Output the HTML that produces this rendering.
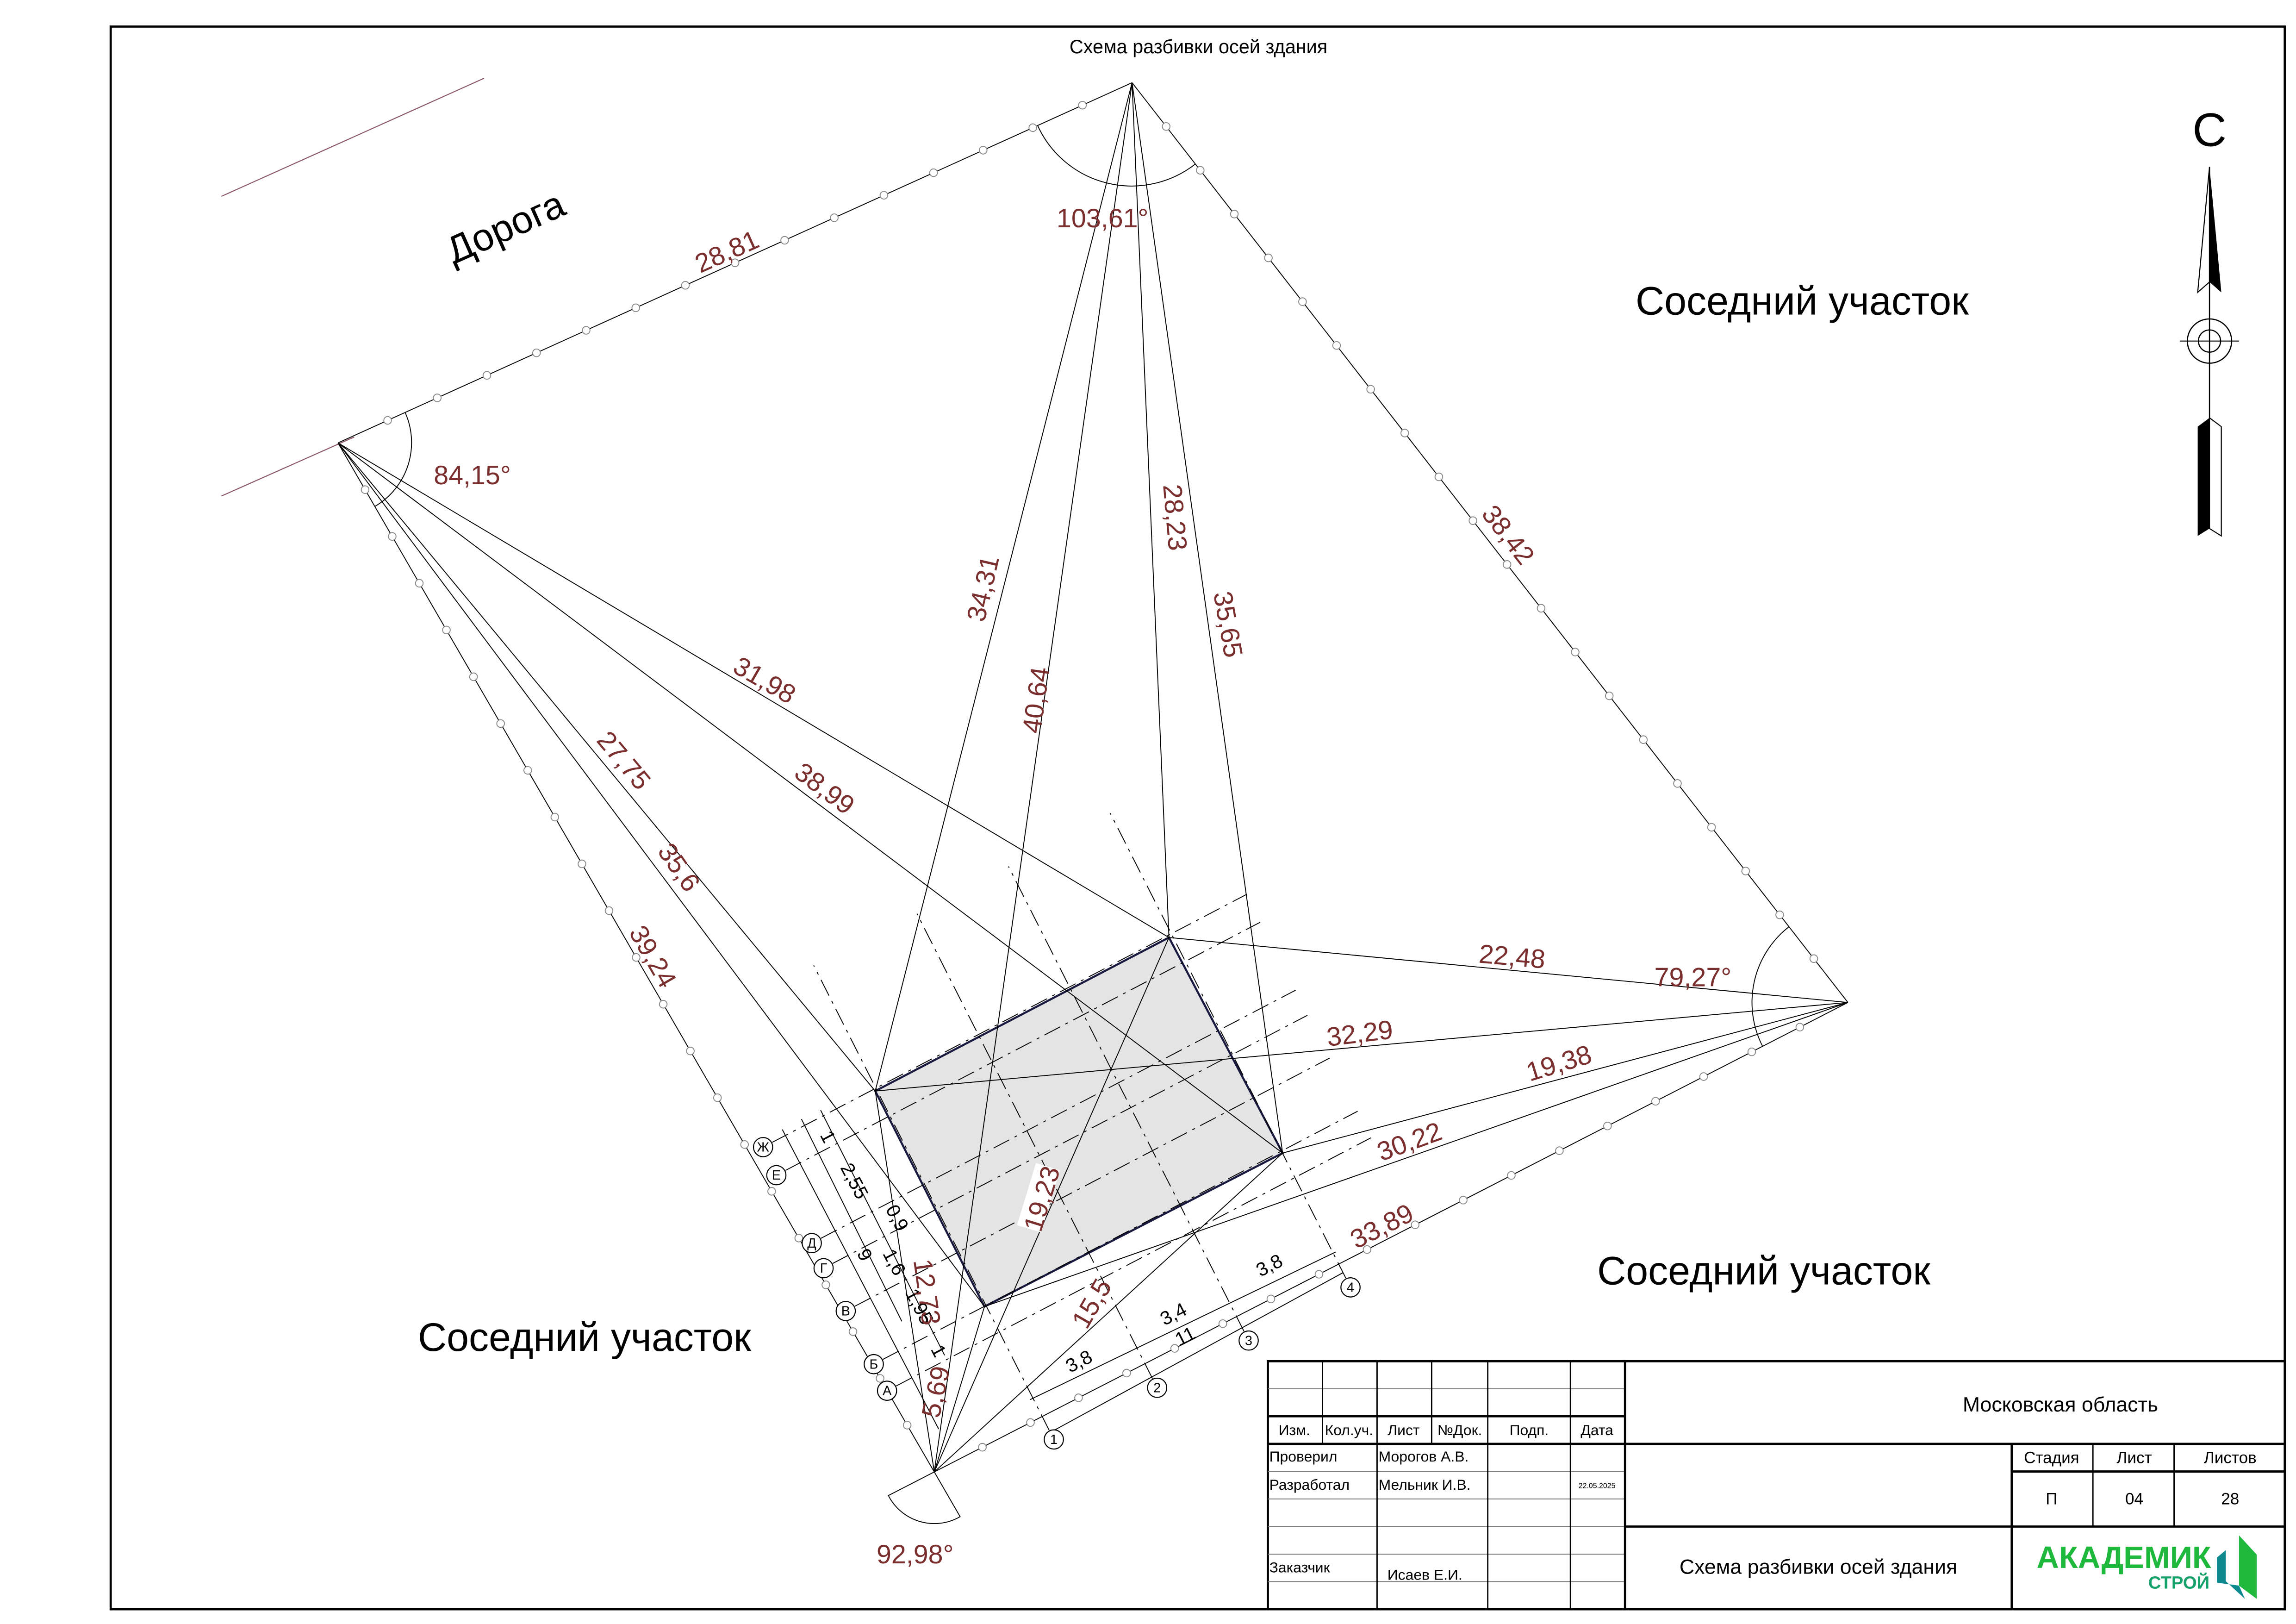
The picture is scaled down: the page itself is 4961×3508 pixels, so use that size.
<!DOCTYPE html>
<html><head><meta charset="utf-8"><style>
html,body{margin:0;padding:0;background:#fff;}
svg{display:block;}
text{font-family:"Liberation Sans Narrow","Liberation Sans",sans-serif;}
.r{fill:#7a2e2e;font-size:18px;}
.k{fill:#000;}
</style></head><body>
<svg id="s" width="4961" height="3508" viewBox="0 0 1555.6 1100" preserveAspectRatio="none" xmlns="http://www.w3.org/2000/svg">
<rect x="0" y="0" width="1555.6" height="1100" fill="#fff"/>
<rect x="75" y="18" width="1473" height="1072" fill="none" stroke="#000" stroke-width="1.5"/>
<text x="812" y="36" font-size="13" text-anchor="middle" class="k">Схема разбивки осей здания</text>

<line x1="150" y1="133" x2="328" y2="53" stroke="#8c5a6a" stroke-width="0.7"/>
<line x1="150" y1="336" x2="240" y2="296" stroke="#8c5a6a" stroke-width="0.7"/>
<text x="346" y="162" font-size="26" transform="rotate(-24 346 162)" text-anchor="middle" class="k">Дорога</text>

<polygon points="593,739 792,635 869,781 667,885" fill="#e4e4e4" stroke="#1a1a40" stroke-width="1.4"/>

<g id="axes" stroke="#000" stroke-width="0.6" stroke-dasharray="12,4,2,4" fill="none"></g>
<g id="lines" stroke="#000" stroke-width="0.6" fill="none">
<line x1="767" y1="56" x2="593" y2="739"/>
<line x1="767" y1="56" x2="633" y2="997"/>
<line x1="767" y1="56" x2="792" y2="635"/>
<line x1="767" y1="56" x2="869" y2="781"/>
<line x1="229" y1="300" x2="593" y2="739"/>
<line x1="229" y1="300" x2="667" y2="885"/>
<line x1="229" y1="300" x2="869" y2="781"/>
<line x1="229" y1="300" x2="792" y2="635"/>
<line x1="1252" y1="679" x2="792" y2="635"/>
<line x1="1252" y1="679" x2="593" y2="739"/>
<line x1="1252" y1="679" x2="869" y2="781"/>
<line x1="1252" y1="679" x2="667" y2="885"/>
<line x1="633" y1="997" x2="593" y2="739"/>
<line x1="633" y1="997" x2="667" y2="885"/>
<line x1="633" y1="997" x2="792" y2="635"/>
<line x1="633" y1="997" x2="869" y2="781"/>
<path d="M703,85 A70,70 0 0 0 810,111"/>
<path d="M274.5,279.4 A50,50 0 0 1 254,343"/>
<path d="M1194.2,708.7 A65,65 0 0 1 1212.1,627.7"/>
<path d="M633,997 L650.5,1027.3 A35,35 0 0 1 601.9,1013 Z"/>
<line x1="530" y1="765" x2="636" y2="968"/>
<line x1="543" y1="758" x2="611" y2="895"/>
<line x1="556" y1="752" x2="640" y2="918"/>
<line x1="698" y1="948" x2="905" y2="848"/>
<line x1="712" y1="970" x2="910" y2="862"/>
</g>
<g id="bnd" stroke="#000" stroke-width="0.6" fill="none">
<line x1="767" y1="56" x2="229" y2="300"/>
<line x1="767" y1="56" x2="1252" y2="679"/>
<line x1="1252" y1="679" x2="633" y2="997"/>
<line x1="229" y1="300" x2="633" y2="997"/>
</g>
<g id="circ" stroke="#888" stroke-width="0.6" fill="#fff"></g>
<g id="bub" stroke="#000" stroke-width="0.7" fill="#fff"></g>
<g font-size="9" text-anchor="middle" class="k">
<text x="517" y="780">Ж</text><text x="526" y="799">Е</text><text x="550" y="845">Д</text><text x="558" y="862">Г</text><text x="573" y="891">В</text><text x="592" y="927">Б</text><text x="601" y="945">А</text>
<text x="714" y="978">1</text><text x="784" y="943">2</text><text x="846" y="911">3</text><text x="915" y="875">4</text>
</g>
<g font-size="13" class="k" text-anchor="middle">
<text x="557" y="772" transform="rotate(62 557 772)">1</text>
<text x="575" y="802" transform="rotate(62 575 802)">2,55</text>
<text x="604" y="827" transform="rotate(62 604 827)">0,9</text>
<text x="582" y="852" transform="rotate(62 582 852)">9</text>
<text x="602" y="857" transform="rotate(62 602 857)">1,6</text>
<text x="619" y="887" transform="rotate(62 619 887)">1,95</text>
<text x="632" y="917" transform="rotate(62 632 917)">1</text>
<text x="733" y="926" transform="rotate(-27 733 926)">3,8</text>
<text x="797" y="894" transform="rotate(-27 797 894)">3,4</text>
<text x="862" y="861" transform="rotate(-27 862 861)">3,8</text>
<text x="805" y="909" transform="rotate(-27 805 909)">11</text>
</g>

<g class="r" text-anchor="middle">
<text x="495" y="176" transform="rotate(-24 495 176)">28,81</text>
<text x="747" y="154">103,61°</text>
<text x="320" y="328">84,15°</text>
<text x="672" y="400" transform="rotate(-77 672 400)">34,31</text>
<text x="708" y="475" transform="rotate(-82 708 475)">40,64</text>
<text x="790" y="351" transform="rotate(85 790 351)">28,23</text>
<text x="826" y="424" transform="rotate(80 826 424)">35,65</text>
<text x="1017" y="366" transform="rotate(52 1017 366)">38,42</text>
<text x="515" y="466" transform="rotate(30 515 466)">31,98</text>
<text x="555" y="539" transform="rotate(37 555 539)">38,99</text>
<text x="418" y="519" transform="rotate(50 418 519)">27,75</text>
<text x="455" y="591" transform="rotate(55 455 591)">35,6</text>
<text x="437" y="651" transform="rotate(60 437 651)">39,24</text>
<text x="1024" y="654" transform="rotate(5 1024 654)">22,48</text>
<text x="1147" y="668">79,27°</text>
<text x="922" y="706" transform="rotate(-7 922 706)">32,29</text>
<text x="1058" y="726" transform="rotate(-17 1058 726)">19,38</text>
<text x="957" y="779" transform="rotate(-20 957 779)">30,22</text>
<text x="939" y="836" transform="rotate(-27 939 836)">33,89</text>
<g transform="rotate(-73 706 812)"><rect x="684" y="801" width="44" height="17" fill="#fff"/><text x="706" y="818">19,23</text></g>
<text x="622" y="876" transform="rotate(82 622 876)">12,73</text>
<text x="745" y="886" transform="rotate(-60 745 886)">15,5</text>
<text x="640" y="944" transform="rotate(-78 640 944)">5,69</text>
<text x="620" y="1059">92,98°</text>
</g>

<g font-size="27" class="k" text-anchor="middle">
<text x="1221" y="213">Соседний участок</text>
<text x="1195" y="870">Соседний участок</text>
<text x="396" y="915">Соседний участок</text>
</g>

<text x="1497" y="99" font-size="32" text-anchor="middle" class="k">С</text>
<polygon points="1497,113 1489,198 1497,191" fill="#fff" stroke="#000" stroke-width="0.7"/>
<polygon points="1497,113 1505,198 1497,191" fill="#000"/>
<line x1="1497" y1="113" x2="1497" y2="358" stroke="#000" stroke-width="0.8"/>
<circle cx="1497" cy="231" r="15" fill="none" stroke="#000" stroke-width="0.8"/>
<circle cx="1497" cy="231" r="7.5" fill="none" stroke="#000" stroke-width="0.8"/>
<line x1="1477" y1="231" x2="1517" y2="231" stroke="#000" stroke-width="0.7"/>
<polygon points="1497,283 1489,289 1489,363 1497,358" fill="#000"/>
<polygon points="1497,283 1505,289 1505,363 1497,358" fill="#fff" stroke="#000" stroke-width="0.7"/>

<g stroke="#000" fill="none">
<rect x="859" y="922" width="689" height="168" fill="#fff" stroke-width="1.5"/>
<g stroke-width="0.6" stroke="#777">
<line x1="859" y1="940.7" x2="1101" y2="940.7"/>
<line x1="859" y1="996.7" x2="1101" y2="996.7"/>
<line x1="859" y1="1015.3" x2="1101" y2="1015.3"/>
<line x1="859" y1="1034" x2="1101" y2="1034"/>
<line x1="859" y1="1052.7" x2="1101" y2="1052.7"/>
<line x1="859" y1="1071.3" x2="1101" y2="1071.3"/>
</g>
<g stroke-width="1.5">
<line x1="859" y1="959.3" x2="1101" y2="959.3"/>
<line x1="859" y1="978" x2="1548" y2="978"/>
<line x1="1101" y1="1034" x2="1548" y2="1034"/>
<line x1="1363" y1="996.7" x2="1548" y2="996.7"/>
<line x1="1101" y1="922" x2="1101" y2="1090"/>
<line x1="1363" y1="978" x2="1363" y2="1090"/>
</g>
<g stroke-width="0.9">
<line x1="896" y1="922" x2="896" y2="978"/>
<line x1="933" y1="922" x2="933" y2="1090"/>
<line x1="970" y1="922" x2="970" y2="978"/>
<line x1="1008" y1="922" x2="1008" y2="1090"/>
<line x1="1064" y1="922" x2="1064" y2="1090"/>
<line x1="1418" y1="978" x2="1418" y2="1034"/>
<line x1="1473" y1="978" x2="1473" y2="1034"/>
</g>
</g>
<g class="k" font-size="10">
<text x="877" y="972" text-anchor="middle">Изм.</text>
<text x="914" y="972" text-anchor="middle">Кол.уч.</text>
<text x="951" y="972" text-anchor="middle">Лист</text>
<text x="989" y="972" text-anchor="middle">№Док.</text>
<text x="1036" y="972" text-anchor="middle">Подп.</text>
<text x="1082" y="972" text-anchor="middle">Дата</text>
<text x="860" y="990">Проверил</text>
<text x="934" y="990">Морогов А.В.</text>
<text x="860" y="1009">Разработал</text>
<text x="934" y="1009">Мельник И.В.</text>
<text x="1082" y="1008" font-size="5" text-anchor="middle">22.05.2025</text>
<text x="860" y="1065">Заказчик</text>
<text x="940" y="1070">Исаев Е.И.</text>
<text x="1390" y="991" text-anchor="middle" font-size="11">Стадия</text>
<text x="1446" y="991" text-anchor="middle" font-size="11">Лист</text>
<text x="1511" y="991" text-anchor="middle" font-size="11">Листов</text>
<text x="1390" y="1019" text-anchor="middle" font-size="11">П</text>
<text x="1446" y="1019" text-anchor="middle" font-size="11">04</text>
<text x="1511" y="1019" text-anchor="middle" font-size="11">28</text>
<text x="1396" y="956" text-anchor="middle" font-size="14">Московская область</text>
<text x="1232" y="1066" text-anchor="middle" font-size="14">Схема разбивки осей здания</text>
</g>
<text x="1439" y="1062" font-size="21" font-weight="bold" fill="#1db83c" text-anchor="middle">АКАДЕМИК</text>
<text x="1497" y="1076" font-size="12" font-weight="bold" fill="#16a06a" text-anchor="end">СТРОЙ</text>
<polygon points="1517,1040 1529,1053 1529,1083 1517,1074" fill="#1db83c"/>
<polygon points="1502,1055 1508,1050 1508,1071 1521,1083 1517,1074 1502,1072" fill="#0e8a8e"/>
</svg>
<script>
(function(){
var NS="http://www.w3.org/2000/svg";
function el(g,t,a){var e=document.createElementNS(NS,t);for(var k in a)e.setAttribute(k,a[k]);document.getElementById(g).appendChild(e);}
var segs=[[767,56,229,300],[767,56,1252,679],[1252,679,633,997],[229,300,633,997]];
segs.forEach(function(s){var dx=s[2]-s[0],dy=s[3]-s[1],L=Math.hypot(dx,dy),n=Math.round(L/37);
for(var i=1;i<n;i++){var t=i/n;el("circ","circle",{cx:s[0]+dx*t,cy:s[1]+dy*t,r:2.6});}});
var ux=0.886,uy=-0.463,vx=-0.452,vy=-0.892;
var lb=[[517,777],[526,796],[550,842],[558,859],[573,888],[592,924],[601,942]];
lb.forEach(function(p){el("axes","line",{x1:p[0]+ux*7,y1:p[1]+uy*7,x2:p[0]+ux*370,y2:p[1]+uy*370});el("bub","circle",{cx:p[0],cy:p[1],r:6.5});});
var nb=[[714,975],[784,940],[846,908],[915,872]];
nb.forEach(function(p){el("axes","line",{x1:p[0]+vx*7,y1:p[1]+vy*7,x2:p[0]+vx*360,y2:p[1]+vy*360});el("bub","circle",{cx:p[0],cy:p[1],r:6.5});});
})();
</script>
</body></html>
